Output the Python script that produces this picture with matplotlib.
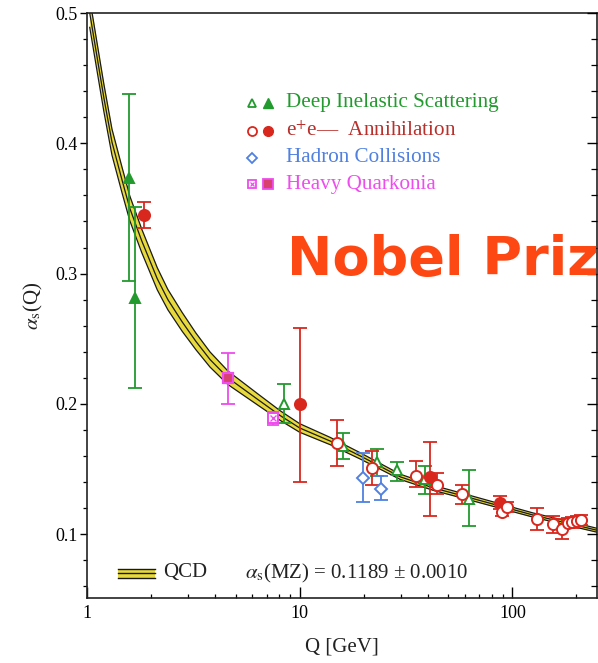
import numpy as np
import matplotlib
matplotlib.use("Agg")
import matplotlib.pyplot as plt
from matplotlib.ticker import FixedLocator, NullFormatter, MultipleLocator, FormatStrFormatter

plt.rcParams['font.family'] = ['Liberation Serif', 'DejaVu Serif']
plt.rcParams['mathtext.fontset'] = 'stix'

# ---------------- data ----------------
# QCD band: centre and vertical half-width
qcd_q = [1.03, 1.20, 1.31, 1.46, 1.59, 1.81, 2.14, 2.40, 2.80, 3.25, 3.79, 4.6,
         6.4, 8.1, 10.0, 13.9, 19.3, 29.7, 42.5, 61.4, 88.0, 125.6, 181.0, 250.0]
qcd_a = [0.500, 0.435, 0.401, 0.372, 0.350, 0.325, 0.296, 0.280, 0.263, 0.248,
         0.234, 0.220, 0.203, 0.191, 0.1815, 0.1715, 0.160, 0.144, 0.1355,
         0.1285, 0.1215, 0.1146, 0.1085, 0.103]
qcd_hw = [0.011, 0.0105, 0.010, 0.0098, 0.0095, 0.009, 0.0085, 0.0078, 0.0072,
          0.0064, 0.0058, 0.0052, 0.0043, 0.0037, 0.0033, 0.0028, 0.0024,
          0.0020, 0.0019, 0.0018, 0.0017, 0.0016, 0.0016, 0.0015]

# Deep inelastic scattering
dis_open_q = [8.45, 16.0, 23.2, 28.8, 39.0, 62.8]
dis_open_a = [0.200, 0.168, 0.155, 0.149, 0.142, 0.127]
dis_open_up = [0.015, 0.010, 0.010, 0.006, 0.010, 0.022]
dis_open_dn = [0.015, 0.010, 0.010, 0.008, 0.011, 0.021]
dis_fill_q = [1.58, 1.68]
dis_fill_a = [0.373, 0.281]
dis_fill_up = [0.065, 0.070]
dis_fill_dn = [0.079, 0.069]

# e+e- annihilation
ee_open_q = [14.9, 21.9, 35.3, 44.4, 58.2, 89.8, 94.7, 131, 156, 172, 183, 190, 201, 211]
ee_open_a = [0.170, 0.151, 0.145, 0.138, 0.131, 0.117, 0.121, 0.112, 0.108,
             0.104, 0.1085, 0.109, 0.110, 0.111]
ee_open_up = [0.018, 0.013, 0.011, 0.009, 0.007, 0.004, 0.004, 0.008, 0.006,
              0.008, 0.004, 0.004, 0.004, 0.004]
ee_open_dn = [0.018, 0.013, 0.009, 0.007, 0.008, 0.003, 0.004, 0.009, 0.007,
              0.008, 0.004, 0.004, 0.004, 0.004]
ee_fill_q = [1.855, 10.0, 41.1, 87.9]
ee_fill_a = [0.345, 0.200, 0.144, 0.124]
ee_fill_up = [0.010, 0.058, 0.027, 0.005]
ee_fill_dn = [0.010, 0.060, 0.030, 0.005]

# Hadron collisions
had_q = [19.9, 24.2]
had_a = [0.143, 0.135]
had_up = [0.019, 0.010]
had_dn = [0.018, 0.009]

# Heavy quarkonia
hq_fill_q = [4.61]
hq_fill_a = [0.220]
hq_fill_up = [0.019]
hq_fill_dn = [0.020]
hq_open_q = [7.5]
hq_open_a = [0.189]
hq_open_up = [0.005]
hq_open_dn = [0.005]

legend_labels = ["Deep Inelastic Scattering", "e$^{+}$e\u2014  Annihilation",
                 "Hadron Collisions", "Heavy Quarkonia"]
x_ticks = [1, 10, 100]
y_ticks = [0.1, 0.2, 0.3, 0.4, 0.5]

# ---------------- style ----------------
GREEN = '#229a2e'
RED = '#d8281e'
RED_TXT = '#b8302c'
BLUE = '#5080e0'
MAG = '#ee4cee'
YEL = '#e8da3c'

W, H = 598, 663
fig = plt.figure(figsize=(W / 100, H / 100), dpi=100)
ax = fig.add_axes([87 / W, 1 - 598 / H, (597 - 87) / W, (598 - 13) / H])
ax.set_xscale('log')
ax.set_xlim(1, 250)
ax.set_ylim(0.051, 0.5)

def fx(px):
    return px / W

def fy(py):
    return 1 - py / H

# QCD band
qq = np.array(qcd_q)
qa = np.array(qcd_a)
qh = np.array(qcd_hw)
ax.fill_between(qq, qa - qh, qa + qh, color=YEL, lw=0, zorder=2)
for arr in (qa - qh, qa + qh, qa):
    ax.plot(qq, arr, color='#1a1a1a', lw=0.9, zorder=2.5, solid_joinstyle='round')

def eb(q, a, dn, up, color, marker, filled, ms=7.5, z=4):
    ax.errorbar(q, a, yerr=[dn, up], fmt='none', ecolor=color, elinewidth=1.3,
                capsize=5, capthick=1.3, zorder=z)
    ax.plot(q, a, ls='none', marker=marker, ms=ms,
            mfc=color if filled else 'white', mec=color, mew=1.4, zorder=z + 0.5)

eb(dis_fill_q, dis_fill_a, dis_fill_dn, dis_fill_up, GREEN, '^', True)
eb(dis_open_q, dis_open_a, dis_open_dn, dis_open_up, GREEN, '^', False)
eb(ee_fill_q, ee_fill_a, ee_fill_dn, ee_fill_up, RED, 'o', True, ms=8)
eb(ee_open_q, ee_open_a, ee_open_dn, ee_open_up, RED, 'o', False, ms=8)
eb(had_q, had_a, had_dn, had_up, BLUE, 'D', False, ms=6)
ax.errorbar(hq_fill_q, hq_fill_a, yerr=[hq_fill_dn, hq_fill_up], fmt='none',
            ecolor=MAG, elinewidth=1.3, capsize=5, capthick=1.3, zorder=4)
ax.plot(hq_fill_q, hq_fill_a, ls='none', marker='s', ms=7, mfc='#d8406e',
        mec=MAG, mew=1.6, zorder=4.5)
ax.errorbar(hq_open_q, hq_open_a, yerr=[hq_open_dn, hq_open_up], fmt='none',
            ecolor=MAG, elinewidth=1.3, capsize=4, capthick=1.3, zorder=4)
ax.plot(hq_open_q, hq_open_a, ls='none', marker='s', ms=7, mfc='white',
        mec=MAG, mew=1.4, zorder=4.5)
ax.plot(hq_open_q, hq_open_a, ls='none', marker='x', ms=4, mec=MAG, mew=1.0,
        zorder=4.6)

# ticks / spines
ax.xaxis.set_major_locator(FixedLocator(x_ticks))
ax.xaxis.set_major_formatter(FormatStrFormatter('%d'))
ax.xaxis.set_minor_locator(FixedLocator([m * d for d in (1, 10, 100) for m in range(2, 10)]))
ax.xaxis.set_minor_formatter(NullFormatter())
ax.yaxis.set_major_locator(FixedLocator(y_ticks))
ax.yaxis.set_major_formatter(FormatStrFormatter('%.1f'))
ax.yaxis.set_minor_locator(MultipleLocator(0.02))
ax.tick_params(axis='x', which='major', direction='in', length=8, width=1.0,
               labelsize=13, pad=5, top=False)
ax.tick_params(axis='x', which='minor', direction='in', length=3, width=0.9, top=False)
ax.tick_params(axis='y', which='major', direction='out', length=5, width=1.0,
               labelsize=13, pad=2)
ax.tick_params(axis='y', which='minor', direction='out', length=3, width=0.9)
for s in ax.spines.values():
    s.set_linewidth(1.2)
    s.set_color('#222222')

ax2 = ax.twinx()
ax2.set_ylim(ax.get_ylim())
ax2.yaxis.set_major_locator(FixedLocator(y_ticks))
ax2.yaxis.set_minor_locator(MultipleLocator(0.02))
ax2.tick_params(axis='y', which='major', direction='in', length=7, width=1.0, labelright=False)
ax2.tick_params(axis='y', which='minor', direction='in', length=4, width=0.9)
for s in ax2.spines.values():
    s.set_visible(False)

ax.set_xlabel('Q [GeV]', fontsize=15, labelpad=11, color='#222222')
ax.set_ylabel(r'$\alpha_{\rm s}$(Q)', fontsize=15, labelpad=7, color='#222222')

# legend (top right)
leg_y = [103, 131, 158, 184]
leg_cols = [GREEN, RED_TXT, BLUE, MAG]
for yy, lab, col in zip(leg_y, legend_labels, leg_cols):
    fig.text(fx(286), fy(yy), lab, color=col, fontsize=15.2, va='center', ha='left')
kw = dict(transform=fig.transFigure, clip_on=False, ls='none')
ax.plot([fx(252)], [fy(leg_y[0])], marker='^', ms=6, mfc='white', mec=GREEN, mew=1.3, **kw)
ax.plot([fx(268)], [fy(leg_y[0])], marker='^', ms=6.5, mfc=GREEN, mec=GREEN, **kw)
ax.plot([fx(252)], [fy(leg_y[1])], marker='o', ms=6.5, mfc='white', mec=RED, mew=1.3, **kw)
ax.plot([fx(268)], [fy(leg_y[1])], marker='o', ms=7, mfc=RED, mec=RED, **kw)
ax.plot([fx(252)], [fy(leg_y[2])], marker='D', ms=5, mfc='white', mec=BLUE, mew=1.3, **kw)
ax.plot([fx(252)], [fy(leg_y[3])], marker='s', ms=6, mfc='white', mec=MAG, mew=1.3, **kw)
ax.plot([fx(252)], [fy(leg_y[3])], marker='x', ms=3.5, mec=MAG, mew=0.9, **kw)
ax.plot([fx(268)], [fy(leg_y[3])], marker='s', ms=6.5, mfc='#d8406e', mec=MAG, mew=1.3, **kw)

# QCD legend at bottom
bx = [fx(118), fx(155)]
by = fy(573)
dy = 4.5 / H
fig.patches.append(plt.Rectangle((bx[0], by - dy), bx[1] - bx[0], 2 * dy,
                                 transform=fig.transFigure, color=YEL, lw=0))
for off in (-dy, 0, dy):
    fig.lines.append(plt.Line2D(bx, [by + off, by + off], transform=fig.transFigure,
                                color='#1a1a1a', lw=1.0))
fig.text(fx(163), fy(573), 'QCD', fontsize=15, va='center', ha='left', color='#222222')
fig.text(fx(245), fy(573), r'$\alpha_{\rm s}$(MZ) = 0.1189 ± 0.0010', fontsize=15,
         va='center', ha='left', color='#222222')

# overlay text
fig.text(fx(287), fy(275), 'Nobel Priz', fontsize=39, fontweight='bold',
         family='DejaVu Sans', color='#fe4814', ha='left', va='baseline')

fig.savefig('out.png', dpi=100)
